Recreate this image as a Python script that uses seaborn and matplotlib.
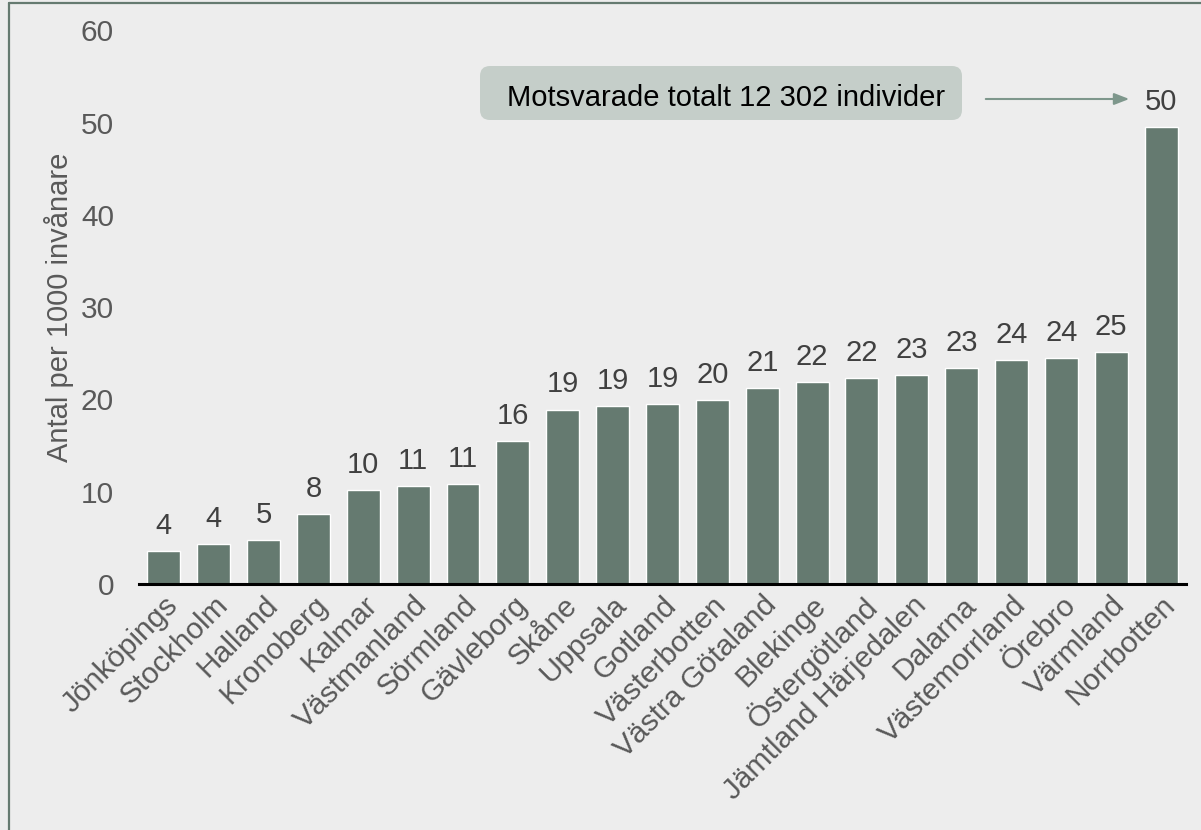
import pandas as pd
import numpy as np
import matplotlib.pyplot as plt
import seaborn as sns
from matplotlib.lines import Line2D
from matplotlib.patches import FancyBboxPatch

regions = ['Jönköpings', 'Stockholm', 'Halland', 'Kronoberg', 'Kalmar', 'Västmanland',
           'Sörmland', 'Gävleborg', 'Skåne', 'Uppsala', 'Gotland', 'Västerbotten',
           'Västra Götaland', 'Blekinge', 'Östergötland', 'Jämtland Härjedalen',
           'Dalarna', 'Västemorrland', 'Örebro', 'Värmland', 'Norrbotten']
per_1000 = [3.55, 4.35, 4.8, 7.6, 10.2, 10.6, 10.8, 15.5, 18.9, 19.3, 19.45, 19.9,
            21.2, 21.9, 22.3, 22.6, 23.4, 24.3, 24.5, 25.1, 49.5]
y_ticks = [0, 10, 20, 30, 40, 50, 60]
note = 'Motsvarade totalt 12 302 individer'

BAR = '#657A70'
BG = '#EDEDED'

df = pd.DataFrame({'region': regions, 'value': per_1000})

sns.set_style('white')
plt.rcParams['font.family'] = ['Liberation Sans', 'DejaVu Sans']

fig = plt.figure(figsize=(12.01, 8.30), dpi=100, facecolor=BG)
ax = fig.add_axes([0.1157, 0.2964, 0.8718, 0.6671])
ax.set_facecolor(BG)

sns.barplot(data=df, x='region', y='value', color=BAR, saturation=1, width=0.66, ax=ax)

ax.bar_label(ax.containers[0], labels=[f'{v:.0f}' for v in per_1000],
             padding=8, fontsize=21, color='#404040')

ax.set_ylim(0, 60)
ax.set_xlim(-0.5, len(regions) - 0.5)
ax.set_yticks(y_ticks)
ax.tick_params(axis='y', labelsize=21.5, labelcolor='#595959', length=0, pad=18)
ax.tick_params(axis='x', labelsize=21.5, labelcolor='#595959', length=0, pad=5)
plt.setp(ax.get_xticklabels(), rotation=45, ha='right', rotation_mode='anchor')
ax.set_xlabel('')
ax.set_ylabel('Antal per 1000 invånare', fontsize=21, color='#595959', labelpad=5)

for s in ['top', 'right', 'left']:
    ax.spines[s].set_visible(False)
ax.spines['bottom'].set_color('black')
ax.spines['bottom'].set_linewidth(2.2)

# note box + arrow to the top bar label (positions in inches from bottom-left)
box = FancyBboxPatch((4.80, 7.10), 4.82, 0.54, boxstyle='round,pad=0,rounding_size=0.1',
                     transform=fig.dpi_scale_trans, fc='#C5CEC9', ec='none')
fig.add_artist(box)
fig.text(726 / 1201, 1 - 98 / 830, note, fontsize=21, color='black', ha='center', va='center')
ax.annotate('', xy=(1132 / 1201, 1 - 99 / 830), xytext=(983 / 1201, 1 - 99 / 830),
            xycoords='figure fraction', textcoords='figure fraction',
            arrowprops=dict(arrowstyle='-|>,head_length=0.9,head_width=0.35', color='#7E978C', lw=1.5))

# frame lines (left and top)
fig.add_artist(Line2D([8.5 / 1201, 8.5 / 1201], [0, 1 - 3 / 830], transform=fig.transFigure, color=BAR, lw=1.6))
fig.add_artist(Line2D([8.5 / 1201, 1], [1 - 3 / 830, 1 - 3 / 830], transform=fig.transFigure, color=BAR, lw=1.6))

fig.savefig('out.png', dpi=100, facecolor=BG)
